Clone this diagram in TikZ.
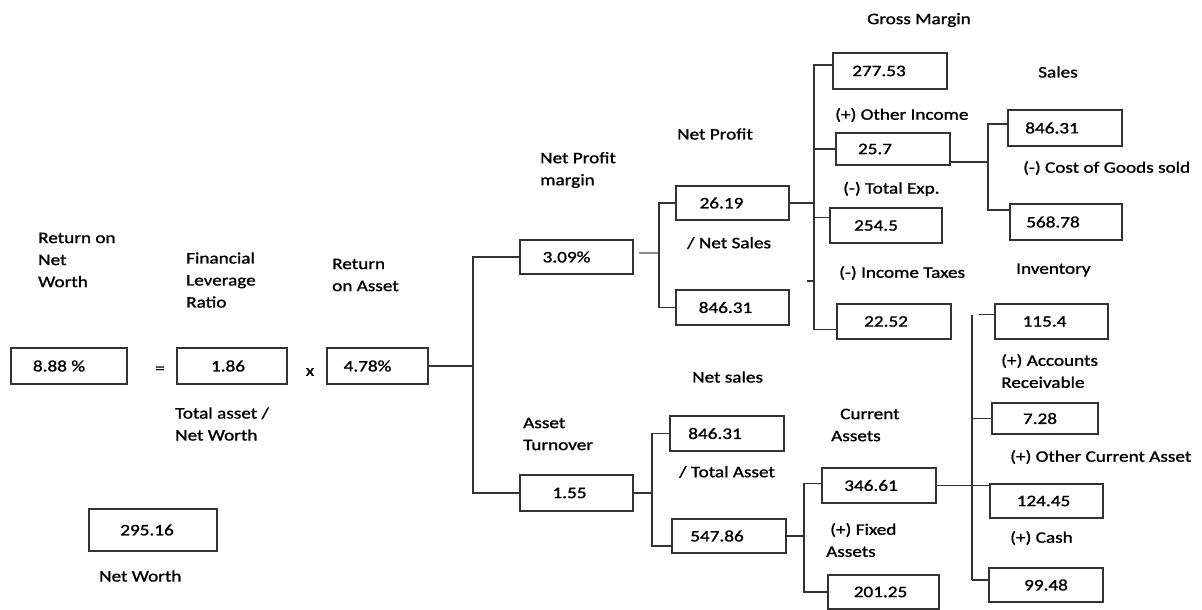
\documentclass[tikz,border=0pt]{standalone}
\usepackage{fontspec}
\setmainfont{Carlito}[FakeStretch=1.2,FakeBold=1.2]
\usetikzlibrary{calc}
\newcommand\bxt[2]{#2\hspace*{#1pt}}
\tikzset{
  box/.style 2 args={draw=black!80, line width=1.3pt, minimum width=#1, minimum height=#2, inner sep=0pt},
  conn/.style={draw=black!80, line width=1.1pt},
  softconn/.style={draw=black!45, line width=2pt},
  lbl/.style={anchor=west, inner sep=0pt, align=left},
}
\begin{document}
\begin{tikzpicture}[x=1pt, y=-1pt, font=\fontsize{16}{22}\selectfont]
\useasboundingbox (0,0) rectangle (1202,610);
% boxes
\node[box={116}{36}] (A) at (69,366) {\bxt{20}{8.88 \%}};
\node[box={110}{36}] (B) at (232,366) {\bxt{8}{1.86}};
\node[box={101}{36}] (C) at (377.5,366) {\bxt{20}{4.78\%}};
\node[box={128}{42}] (NW) at (153,530) {\bxt{12}{295.16}};
\node[box={113}{34}] (D) at (576.5,257) {\bxt{20}{3.09\%}};
\node[box={113}{36}] (E) at (576.5,493) {\bxt{14}{1.55}};
\node[box={113}{34}] (F) at (732.5,203) {\bxt{22}{26.19}};
\node[box={113}{35}] (G) at (732.5,307.5) {\bxt{14}{846.31}};
\node[box={114}{35}] (H) at (727,433.5) {\bxt{24}{846.31}};
\node[box={114}{34}] (I) at (729,536) {\bxt{24}{547.86}};
\node[box={114}{36}] (J) at (890,71) {\bxt{22}{277.53}};
\node[box={114}{32}] (K) at (893,149) {\bxt{36}{25.7}};
\node[box={112}{35}] (L) at (886,225.5) {\bxt{20}{254.5}};
\node[box={114}{35}] (M) at (894,321.5) {\bxt{16}{22.52}};
\node[box={114}{36}] (N) at (1065,128) {\bxt{26}{846.31}};
\node[box={112}{36}] (O) at (1066,222) {\bxt{26}{568.78}};
\node[box={114}{35}] (P) at (879,485.5) {\bxt{16}{346.61}};
\node[box={111}{34}] (Q) at (883.5,592) {\bxt{6}{201.25}};
\node[box={113}{35}] (R) at (1051.5,321.5) {\bxt{14}{115.4}};
\node[box={106}{31}] (S) at (1045,418.5) {\bxt{10}{7.28}};
\node[box={113}{34}] (T) at (1046.5,501) {\bxt{6}{124.45}};
\node[box={114}{34}] (U) at (1046,585) {99.48};
% operators
\node (eq) at (160,370) {=};
\node (times) at (310,372) {x};
% labels
\node[lbl] (l1) at (38,260) {Return on\\Net\\Worth};
\node[lbl] (l2) at (186,280) {Financial\\Leverage\\Ratio};
\node[lbl] (l3) at (332,275) {Return\\on Asset};
\node[lbl] (l4) at (175,424) {Total asset /\\Net Worth};
\node[lbl] (l5) at (99,576) {Net Worth};
\node[lbl] (l6) at (540,170) {Net Profit\\margin};
\node[lbl] (l7) at (677,134) {Net Profit};
\node[lbl] (l8) at (687,243) {/ Net Sales};
\node[lbl] (l9) at (867,20) {Gross Margin};
\node[lbl] (l10) at (1038,72) {Sales};
\node[lbl] (l11) at (835,115) {(+) Other Income};
\node[lbl] (l12) at (1023,168) {(-) Cost of Goods sold};
\node[lbl] (l13) at (843,189) {(-) Total Exp.};
\node[lbl] (l14) at (839,273) {(-) Income Taxes};
\node[lbl] (l15) at (1016,270) {Inventory};
\node[lbl] (l16) at (1001,371) {(+) Accounts\\Receivable};
\node[lbl] (l17) at (692,377) {Net sales};
\node[lbl] (l18) at (831,425) {\hspace*{9pt}Current\\Assets};
\node[lbl] (l19) at (523,434) {Asset\\Turnover};
\node[lbl] (l20) at (679,472) {/ Total Asset};
\node[lbl] (l21) at (1010,457) {(+) Other Current Asset};
\node[lbl] (l22) at (826,540) {\hspace*{4pt}(+) Fixed\\Assets};
\node[lbl] (l23) at (1010,538) {(+) Cash};
% junction coordinates
\coordinate (j1) at (473,366);
\coordinate (j2) at (659,253);
\coordinate (j3) at (814,203);
\coordinate (j4) at (988,162);
\coordinate (j5) at (652,493);
\coordinate (j6) at (804,536);
\coordinate (vtop) at (972,315);
\coordinate (vbot) at (972,580);
% connectors
\draw[conn] (C.east) -- (j1);
\draw[conn] (D.west) -| (j1) |- (E.west);
\draw[softconn, shorten <=5pt] (D.east |- j2) -- (j2);
\draw[conn] (F.west) -| (j2) |- (G.west);
\draw[conn] (F.east) -- (j3);
\draw[conn] ([yshift=6pt]J.west) -| (j3) |- ([yshift=-8pt]M.west);
\draw[conn] (K.west -| j3) -- (K.west);
\draw[conn] ([yshift=8pt]L.west -| j3) -- ([yshift=8pt]L.west);
\draw[conn] (807,281) -- (814,281);
\draw[conn] ([yshift=-13pt]K.east) -- (j4);
\draw[conn] ([yshift=4pt]N.west) -| (j4) |- ([yshift=12pt]O.west);
\draw[conn] (E.east) -- (j5);
\draw[conn] (H.west) -| (j5) |- ([yshift=-10pt]I.west);
\draw[conn] (I.east) -- (j6);
\draw[conn] ([yshift=2pt]P.west) -| (j6) |- (Q.west);
\draw[conn] (P.east) -- (P.east -| T.west);
\draw[conn] (vtop) -- (vbot);
\draw[conn] ([yshift=7pt]R.west) -- ++(-15,0);
\draw[conn] (S.west -| vtop) -- (S.west);
\draw[conn] (vbot) -- (vbot -| U.west);
\end{tikzpicture}
\end{document}
